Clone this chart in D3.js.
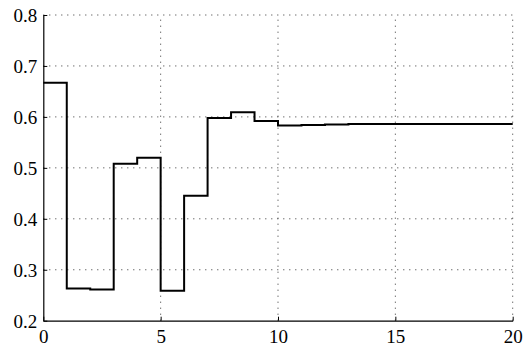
<!DOCTYPE html>
<html>
<head>
<meta charset="utf-8">
<script src="https://cdn.jsdelivr.net/npm/d3@7"></script>
<style>
  html, body { margin: 0; padding: 0; background: #fff; }
  svg { display: block; }
</style>
</head>
<body>
<svg id="chart" width="526" height="354"></svg>
<script>
// Step response: value held over each unit interval [k, k+1)
const stepStarts = d3.range(0, 20);
const stepValues = [0.667, 0.263, 0.261, 0.508, 0.520, 0.259, 0.445, 0.598, 0.609, 0.592,
                    0.583, 0.584, 0.585, 0.586, 0.586, 0.586, 0.586, 0.586, 0.586, 0.586];
const xTicks = [0, 5, 10, 15, 20];
const yTicks = [0.2, 0.3, 0.4, 0.5, 0.6, 0.7, 0.8];

const svg = d3.select("#chart");
const plotLeft = 43.3, plotRight = 512.7, plotTop = 15, plotBottom = 320.7;
const labelFont = "Liberation Serif";

const x = d3.scaleLinear().domain([0, 20]).range([plotLeft, plotRight]);
const y = d3.scaleLinear().domain([0.2, 0.8]).range([plotBottom, plotTop]);

// Dotted grid
const grid = svg.append("g").attr("stroke", "#333").attr("stroke-width", 1)
  .attr("stroke-dasharray", "1,5");
grid.selectAll("line.gx").data(xTicks.slice(1)).join("line")
  .attr("x1", d => x(d)).attr("x2", d => x(d))
  .attr("y1", plotBottom).attr("y2", plotTop);
grid.selectAll("line.gy").data(yTicks.slice(1)).join("line")
  .attr("x1", plotLeft).attr("x2", plotRight)
  .attr("y1", d => y(d)).attr("y2", d => y(d));

// Axes with inward ticks
const xAxis = svg.append("g").attr("transform", `translate(0,${plotBottom})`)
  .call(d3.axisBottom(x).tickValues(xTicks).tickFormat(d3.format("d"))
    .tickSizeInner(-4).tickSizeOuter(0).tickPadding(9));
const yAxis = svg.append("g").attr("transform", `translate(${plotLeft},0)`)
  .call(d3.axisLeft(y).tickValues(yTicks).tickFormat(d3.format(".1f"))
    .tickSizeInner(-4).tickSizeOuter(0).tickPadding(6));
[xAxis, yAxis].forEach(a => {
  a.attr("font-family", null).attr("font-size", null);
  a.select(".domain").attr("stroke", "#000").attr("stroke-width", 1.2);
  a.selectAll(".tick line").attr("stroke", "#000").attr("stroke-width", 1);
  a.selectAll(".tick text")
    .attr("font-family", labelFont)
    .attr("font-size", 19)
    .attr("fill", "#000");
});
xAxis.selectAll(".tick text").attr("dy", "0.71em");
yAxis.selectAll(".tick text").attr("dy", "0.36em");

// Step line
const pts = stepStarts.map((s, i) => [s, stepValues[i]]);
pts.push([20, stepValues[stepValues.length - 1]]);
const line = d3.line().x(d => x(d[0])).y(d => y(d[1])).curve(d3.curveStepAfter);
svg.append("path").datum(pts)
  .attr("fill", "none").attr("stroke", "#000").attr("stroke-width", 2)
  .attr("stroke-linejoin", "miter").attr("d", line);
</script>
</body>
</html>
